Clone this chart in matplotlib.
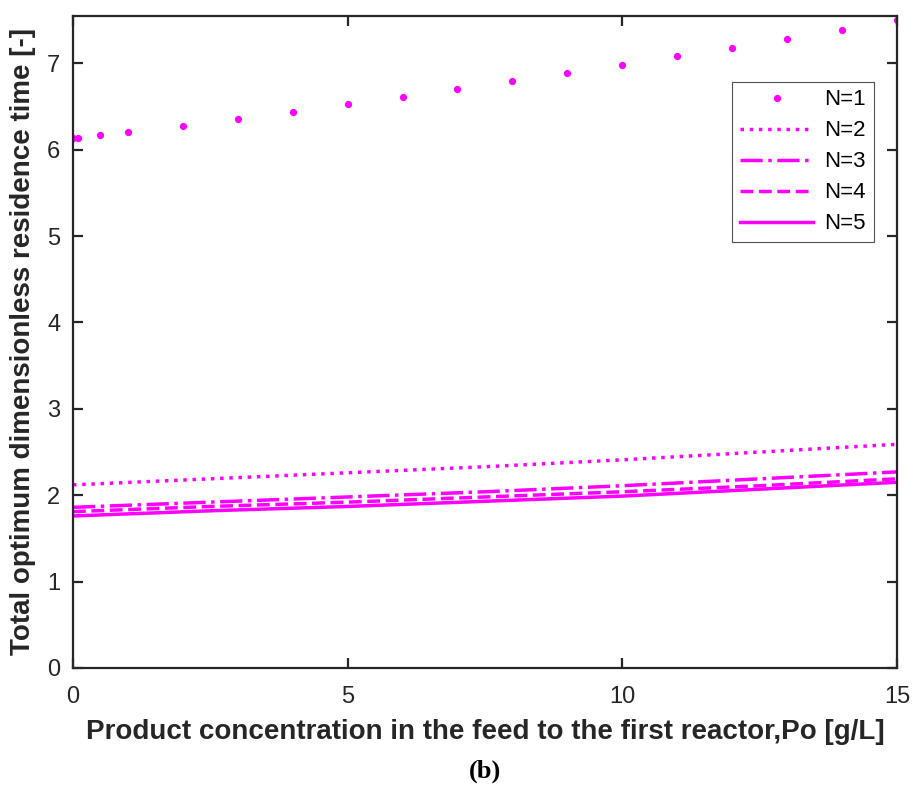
import numpy as np
import matplotlib.pyplot as plt

# feed product concentration Po [g/L]
po_n1 = [0, 0.1, 0.5, 1, 2, 3, 4, 5, 6, 7, 8, 9, 10, 11, 12, 13, 14, 15]
tau_n1 = [6.13, 6.14, 6.17, 6.20, 6.28, 6.36, 6.44, 6.53, 6.61, 6.70, 6.79,
          6.89, 6.98, 7.08, 7.18, 7.28, 7.39, 7.50]

po = [0, 2.5, 5, 7.5, 10, 12.5, 15]
tau_n2 = [2.12, 2.19, 2.26, 2.33, 2.41, 2.50, 2.59]
tau_n3 = [1.86, 1.92, 1.98, 2.04, 2.11, 2.19, 2.27]
tau_n4 = [1.81, 1.87, 1.92, 1.98, 2.04, 2.11, 2.19]
tau_n5 = [1.76, 1.82, 1.87, 1.93, 1.99, 2.07, 2.15]

labels = ['N=1', 'N=2', 'N=3', 'N=4', 'N=5']

mag = '#FF00FF'
dark = '#262626'
font = ['Liberation Sans', 'DejaVu Sans']

fig = plt.figure(figsize=(9.17, 7.91), dpi=100)
ax = fig.add_axes([0.0796, 0.1555, 0.8985, 0.8245])

ax.plot(po_n1, tau_n1, 'o', color=mag, markersize=5.2, markeredgewidth=0, label=labels[0])
ax.plot(po, tau_n2, ':', color=mag, lw=2.5, label=labels[1])
ax.plot(po, tau_n3, '-.', color=mag, lw=2.5, label=labels[2])
ax.plot(po, tau_n4, '--', color=mag, lw=2.5, label=labels[3])
ax.plot(po, tau_n5, '-', color=mag, lw=2.5, label=labels[4])

ax.set_xlim(0, 15)
ax.set_ylim(0, 7.55)
ax.set_xticks([0, 5, 10, 15])
ax.set_yticks(range(8))

for s in ax.spines.values():
    s.set_linewidth(1.6)
    s.set_color(dark)
ax.tick_params(direction='in', length=7, width=1.6, color=dark,
               top=True, right=True, labelsize=17)
ax.tick_params(axis='x', pad=13)
ax.tick_params(axis='y', pad=9)
for t in ax.get_xticklabels() + ax.get_yticklabels():
    t.set_family(font)
    t.set_color(dark)

ax.set_xlabel('Product concentration in the feed to the first reactor,Po [g/L]',
              fontsize=20, fontweight='bold', family=font, color=dark, labelpad=8)
ax.set_ylabel('Total optimum dimensionless residence time [-]',
              fontsize=20, fontweight='bold', family=font, color=dark, labelpad=8)

leg = ax.legend(loc='upper right', bbox_to_anchor=(0.972, 0.899), borderaxespad=0,
                fancybox=False, edgecolor=dark, prop={'family': font, 'size': 16},
                handlelength=3.3, borderpad=0.35, labelspacing=0.45, handletextpad=0.5)
leg.get_frame().set_linewidth(0.8)

fig.text(0.529, 0.025, '(b)', ha='center', va='center', fontsize=19,
         family=['Liberation Serif', 'DejaVu Serif'], fontweight='bold')

fig.savefig('out.png', dpi=100)
